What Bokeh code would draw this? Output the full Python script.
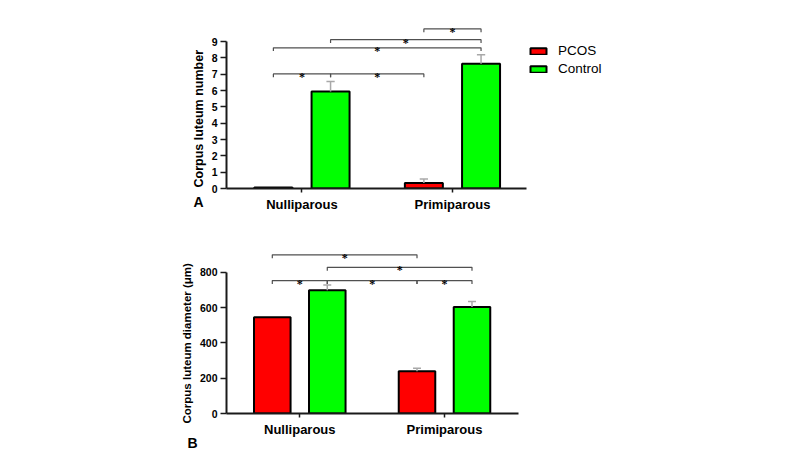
from bokeh.plotting import figure
from bokeh.layouts import column
from bokeh.models import Range1d, FixedTicker, Legend, LegendItem, Title
from bokeh.embed import file_html
from bokeh.resources import INLINE

# ---------------- data ----------------
categories = ["Nulliparous", "Primiparous"]
series = ["PCOS", "Control"]
colors = ["#ff0000", "#00ff00"]

number_pcos = [0.06, 0.33]
number_pcos_err = [0.0, 0.25]
number_ctrl = [5.95, 7.64]
number_ctrl_err = [0.6, 0.55]

diam_pcos = [545, 240]
diam_pcos_err = [0, 16]
diam_ctrl = [698, 604]
diam_ctrl_err = [30, 30]

number_ticks = [0, 1, 2, 3, 4, 5, 6, 7, 8, 9]
diam_ticks = [0, 200, 400, 600, 800]

# significance brackets: (bar a, bar b, level)
# bars: 0 PCOS-Nulliparous, 1 Control-Nulliparous, 2 PCOS-Primiparous, 3 Control-Primiparous
number_sig = [(0, 1, 7.02), (1, 2, 7.02), (0, 3, 8.62), (1, 3, 9.12), (2, 3, 9.78)]
diam_sig = [(0, 1, 753), (1, 2, 753), (2, 3, 753), (1, 3, 828), (0, 2, 899)]

FONT = "Liberation Sans"
OFFSET = 0.38
BAR_W = 0.505
BORDER_LEFT, BORDER_RIGHT = 226, 130


def make_panel(pcos, pcos_err, ctrl, ctrl_err, ticks, sig, ylabel, xr, xbounds, yr,
               top, bottom, tick_len, ylabel_size, ylabel_offset, ylabel_standoff,
               letter, letter_offset, letter_valign, letter_standoff):
    p = figure(output_backend="svg", toolbar_location=None,
               width=770, height=233,
               min_border_left=BORDER_LEFT, min_border_right=BORDER_RIGHT,
               min_border_top=top, min_border_bottom=bottom,
               x_range=Range1d(*xr), y_range=Range1d(*yr))
    p.outline_line_color = None
    p.grid.visible = False
    p.background_fill_color = "white"
    p.border_fill_color = "white"

    cat_x = [2 * i + 1 for i in range(len(categories))]
    pcos_x = [c - OFFSET for c in cat_x]
    ctrl_x = [c + OFFSET for c in cat_x]

    r_p = p.vbar(x=pcos_x, top=pcos, width=BAR_W, bottom=0,
                 fill_color=colors[0], line_color="black", line_width=2)
    r_c = p.vbar(x=ctrl_x, top=ctrl, width=BAR_W, bottom=0,
                 fill_color=colors[1], line_color="black", line_width=2)

    # upper error whiskers
    for xs, vals, errs in ((pcos_x, pcos, pcos_err), (ctrl_x, ctrl, ctrl_err)):
        ex = [x for x, e in zip(xs, errs) if e > 0]
        ey0 = [v for v, e in zip(vals, errs) if e > 0]
        ey1 = [v + e for v, e in zip(vals, errs) if e > 0]
        if ex:
            p.segment(x0=ex, y0=ey0, x1=ex, y1=ey1, line_color="#a8a8a8", line_width=1.5)
            p.segment(x0=[x - 0.055 for x in ex], y0=ey1, x1=[x + 0.055 for x in ex],
                      y1=ey1, line_color="#a8a8a8", line_width=1.5)

    # significance brackets
    bar_x = [pcos_x[0], ctrl_x[0], pcos_x[1], ctrl_x[1]]
    bxs, bys, sx, sy = [], [], [], []
    for a, b, lvl in sig:
        xa, xb = bar_x[a], bar_x[b]
        bxs.append([xa, xa, xb, xb])
        bys.append([lvl - tick_len, lvl, lvl, lvl - tick_len])
        sx.append((xa + xb) / 2)
        sy.append(lvl)
    p.multi_line(xs=bxs, ys=bys, line_color="#505050", line_width=1.2)
    p.text(x=sx, y=sy, text=["*"] * len(sx), text_align="center",
           text_baseline="alphabetic", y_offset=3, text_font=FONT,
           text_font_size="12px", text_font_style="bold", text_color="black")

    # axes
    p.xaxis.ticker = FixedTicker(ticks=cat_x)
    p.xaxis.major_label_overrides = {c: n for c, n in zip(cat_x, categories)}
    p.xaxis.bounds = xbounds
    p.yaxis.ticker = FixedTicker(ticks=ticks)
    p.yaxis.bounds = (ticks[0], ticks[-1])
    for ax in (p.xaxis, p.yaxis):
        ax.axis_line_width = 2
        ax.axis_line_color = "#1a1a1a"
        ax.major_tick_line_color = "#1a1a1a"
        ax.major_tick_line_width = 1.5
        ax.minor_tick_line_color = None
        ax.major_tick_in = 0
        ax.major_label_text_font = FONT
        ax.major_label_text_font_style = "bold"
        ax.major_label_text_color = "black"
    p.xaxis.major_tick_out = 4
    p.xaxis.major_label_text_font_size = "13px"
    p.xaxis.major_label_standoff = 4
    p.yaxis.major_tick_out = 6
    p.yaxis.major_label_text_font_size = "10.5px"
    p.yaxis.major_label_standoff = 3

    # y-axis title, centred on the axis' extent rather than on the frame
    p.add_layout(Title(text=ylabel, align="left", offset=ylabel_offset,
                       standoff=ylabel_standoff, text_font=FONT,
                       text_font_style="bold", text_font_size=ylabel_size,
                       text_color="black"), "left")

    p.add_layout(Title(text=letter, align="left", offset=letter_offset,
                       vertical_align=letter_valign, standoff=letter_standoff,
                       text_font=FONT, text_font_style="bold",
                       text_font_size="14px", text_color="black"), "below")
    return p, r_p, r_c


# both frames share the same pixel extent (the column aligns them);
# the frame runs on to the right so that the legend sits inside it
p1, r1p, r1c = make_panel(number_pcos, number_pcos_err, number_ctrl, number_ctrl_err,
                          number_ticks, number_sig, "Corpus luteum number",
                          (-0.003, 5.499), (-0.003, 3.99), (0, 10.6),
                          15, 45, 0.2, "12.5px", 1, 6,
                          "A", -33, "top", -42)
legend = Legend(items=[LegendItem(label=series[0], renderers=[r1p]),
                       LegendItem(label=series[1], renderers=[r1c])],
                location=(302, 112), glyph_width=20, glyph_height=8,
                label_standoff=10, spacing=3, padding=0, margin=0,
                border_line_color=None, background_fill_alpha=0,
                label_text_font=FONT, label_text_font_size="13.5px",
                label_height=14, label_text_color="black")
p1.add_layout(legend)

p2, _, _ = make_panel(diam_pcos, diam_pcos_err, diam_ctrl, diam_ctrl_err,
                      diam_ticks, diam_sig, "Corpus luteum diameter (μm)",
                      (-0.013, 5.709), (-0.013, 4.02), (0, 980),
                      7, 53, 20, "11.5px", -10, 7,
                      "B", -39, "bottom", -14)

layout = column(p1, p2)
open("out.html", "w").write(file_html(layout, INLINE))
